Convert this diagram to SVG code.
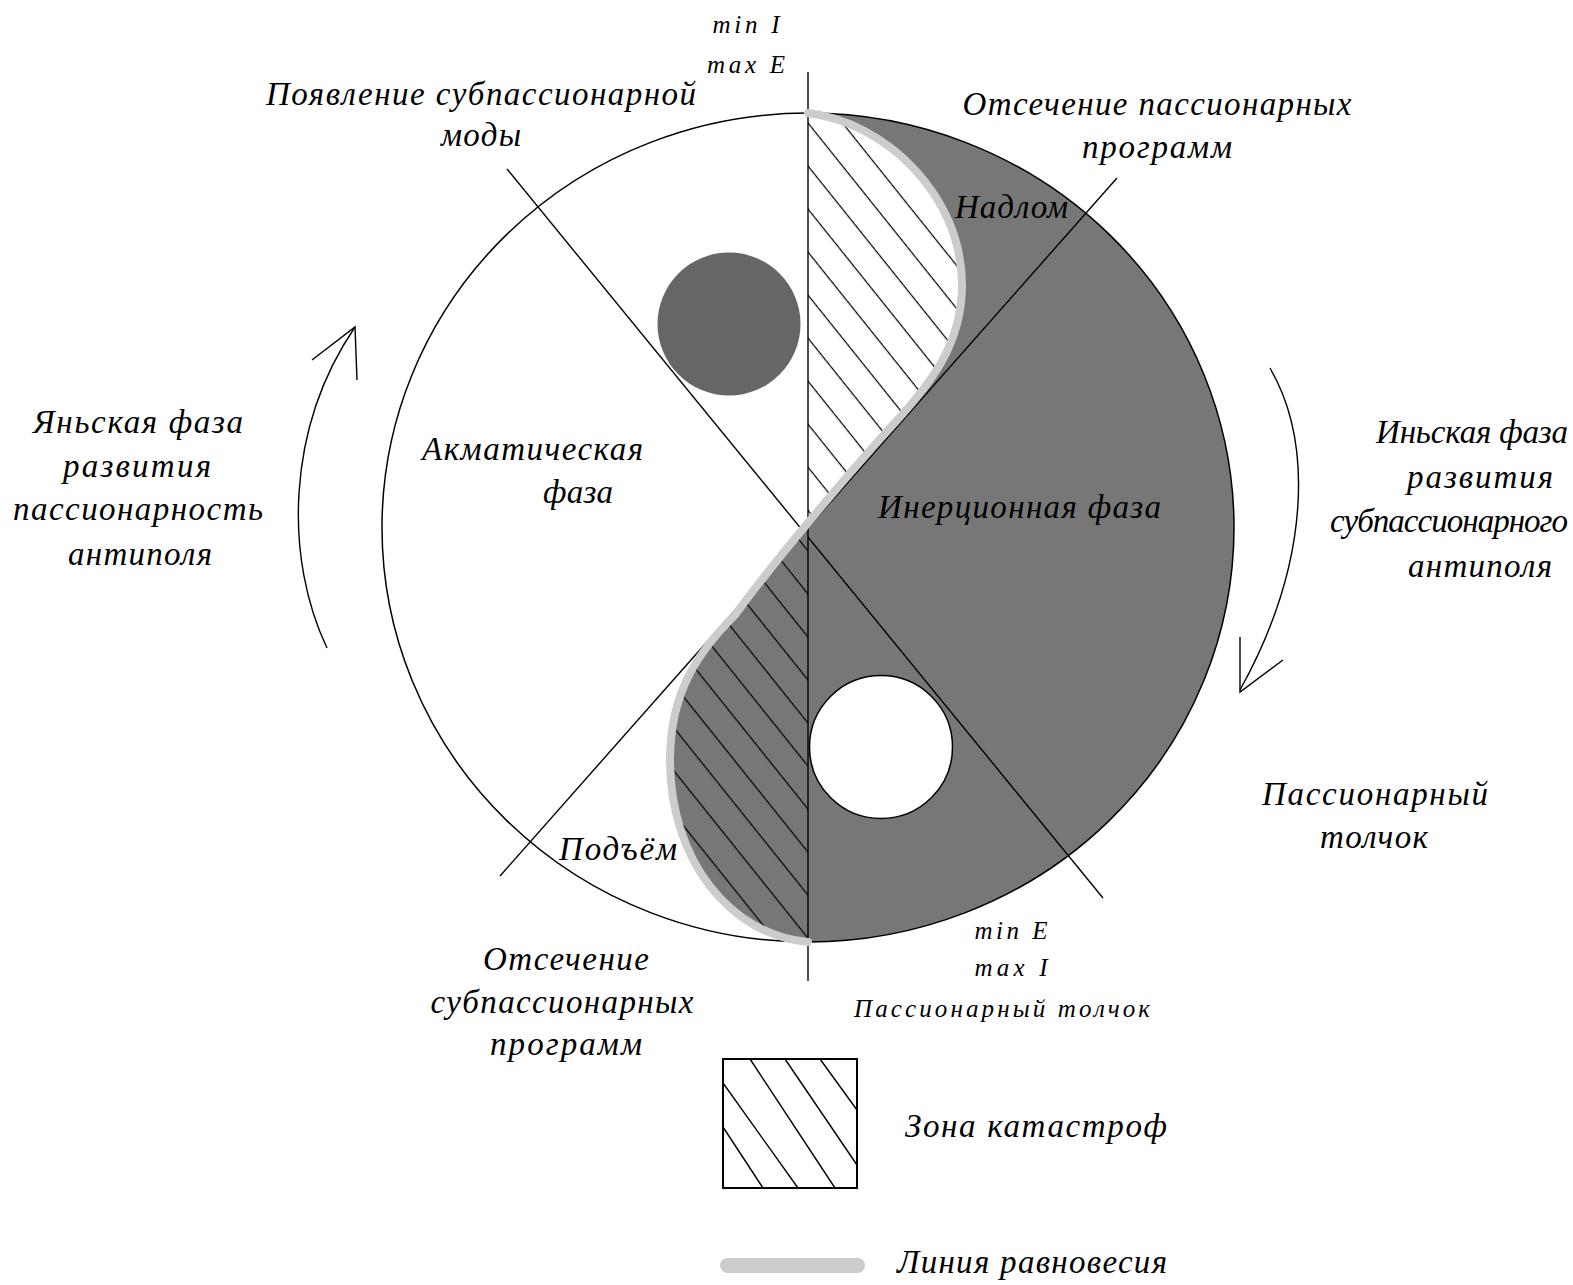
<svg xmlns="http://www.w3.org/2000/svg" width="1573" height="1285" viewBox="0 0 1573 1285">
<style>
  text { font-family: "Liberation Serif", "Times New Roman", serif; font-style: italic; fill: #000; }
  .big { font-size: 33px; }
  .small { font-size: 25px; }
  .mid { text-anchor: middle; }
  .ln { stroke: #000; stroke-width: 1.4; fill: none; }
  .dark { fill: #777777; }
  .eq { stroke: #cccccc; stroke-width: 8; fill: none; stroke-linecap: round; stroke-linejoin: round; }
</style>
<defs>
  <path id="scurve" d="M808,113 C885,122 962,195 962,285 C962,345 930,385 890,428 C850,472 775,560 735,615 C700,650 670,690 670,760 C670,860 730,935 808,942"/>
  <path id="lobes" d="M808,113 C885,122 962,195 962,285 C962,345 930,385 890,428 C850,472 775,560 735,615 C700,650 670,690 670,760 C670,860 730,935 808,942 L808,113 Z"/>
  <clipPath id="clipLobes"><use href="#lobes"/></clipPath>
  <clipPath id="clipR"><rect x="808" y="0" width="800" height="1285"/></clipPath>
  <clipPath id="clipL"><rect x="0" y="0" width="808" height="1285"/></clipPath>
  <pattern id="hatchU" patternUnits="userSpaceOnUse" width="10" height="26.9" patternTransform="translate(808,122) rotate(51.3)">
    <rect x="0" y="0" width="10" height="1.2" fill="#000"/>
  </pattern>
  <pattern id="hatchL" patternUnits="userSpaceOnUse" width="10" height="26.9" patternTransform="translate(808,593) rotate(51.3)">
    <rect x="0" y="0" width="10" height="1.2" fill="#000"/>
  </pattern>
</defs>

<g id="circle-base">
  <ellipse cx="808" cy="527.5" rx="426" ry="414.5" fill="#fff"/>
  <path class="dark" d="M808,113 A426,414.5 0 0 1 808,942 Z"/>
</g>

<g id="connectors">
  <line class="ln" x1="507" y1="169" x2="1103" y2="898"/>
  <line class="ln" x1="500" y1="876" x2="1117" y2="178"/>
  <path class="ln" d="M327,648 C285,560 285,430 355,327"/>
  <path class="ln" d="M312,360 L355,327 L357,380"/>
  <path class="ln" d="M1270,368 C1312,440 1312,560 1240,690"/>
  <path class="ln" d="M1240,637 L1240,692 L1283,660"/>
</g>

<g id="lobes-group">
  <use href="#lobes" fill="#fff" clip-path="url(#clipR)"/>
  <use href="#lobes" class="dark" clip-path="url(#clipL)"/>
  <g clip-path="url(#clipLobes)">
    <rect x="808" y="100" width="200" height="430" fill="url(#hatchU)"/>
    <rect x="650" y="515" width="158" height="440" fill="url(#hatchL)"/>
  </g>
</g>

<g id="dots">
  <circle cx="729" cy="324" r="71.5" fill="#666666"/>
  <circle cx="881" cy="747" r="71.5" fill="#fff" stroke="#000" stroke-width="1.5"/>
</g>

<g id="outline">
  <ellipse cx="808" cy="527.5" rx="426" ry="414.5" fill="none" stroke="#000" stroke-width="1.5"/>
  <line class="ln" x1="808" y1="72" x2="808" y2="981"/>
  <use href="#scurve" class="eq"/>
</g>

<g id="labels">
  <text class="small mid" x="746" y="33" textLength="67">min I</text>
  <text class="small mid" x="746" y="73" textLength="78">max E</text>
  <text class="big mid" x="481" y="105" textLength="430">Появление субпассионарной</text>
  <text class="big mid" x="481" y="146" textLength="80">моды</text>
  <text class="big mid" x="1157" y="115" textLength="389">Отсечение пассионарных</text>
  <text class="big mid" x="1157" y="158" textLength="150">программ</text>
  <text class="big" x="955" y="218" textLength="113">Надлом</text>
  <text class="big" x="422" y="460" textLength="221">Акматическая</text>
  <text class="big" x="543" y="503" textLength="70">фаза</text>
  <text class="big" x="878" y="518" textLength="283">Инерционная фаза</text>
  <text class="big mid" x="138" y="433" textLength="210">Яньская фаза</text>
  <text class="big mid" x="137" y="477" textLength="148">развития</text>
  <text class="big mid" x="138" y="520" textLength="250">пассионарность</text>
  <text class="big mid" x="140" y="565" textLength="144">антиполя</text>
  <text class="big" x="1376" y="443" textLength="192">Иньская фаза</text>
  <text class="big mid" x="1480" y="488" textLength="146">развития</text>
  <text class="big" x="1330" y="532" font-size="31" textLength="238">субпассионарного</text>
  <text class="big mid" x="1480" y="577" textLength="144">антиполя</text>
  <text class="big mid" x="1375" y="805" textLength="226">Пассионарный</text>
  <text class="big mid" x="1374" y="848" textLength="108">толчок</text>
  <text class="big" x="559" y="860" textLength="118">Подъём</text>
  <text class="small mid" x="1011" y="939" textLength="73">min E</text>
  <text class="small mid" x="1011" y="976" textLength="73">max I</text>
  <text class="small mid" x="1002" y="1017" textLength="296">Пассионарный толчок</text>
  <text class="big mid" x="566" y="970" textLength="166">Отсечение</text>
  <text class="big mid" x="562" y="1013" textLength="263">субпассионарных</text>
  <text class="big mid" x="566" y="1055" textLength="152">программ</text>
</g>

<g id="legend-catastrophe">
  <rect x="723" y="1059" width="134" height="129" fill="#fff" stroke="#000" stroke-width="2"/>
  <path class="ln" d="M750,1059 L835,1188 M785,1059 L857,1165 M820,1059 L857,1110 M723,1083 L798,1188 M723,1127 L763,1188"/>
  <text class="big" x="905" y="1137" textLength="262">Зона катастроф</text>
</g>

<g id="legend-equilibrium">
  <rect x="720" y="1258" width="145" height="15" rx="7.5" fill="#cccccc"/>
  <text class="big" x="897" y="1273" textLength="270">Линия равновесия</text>
</g>
</svg>
